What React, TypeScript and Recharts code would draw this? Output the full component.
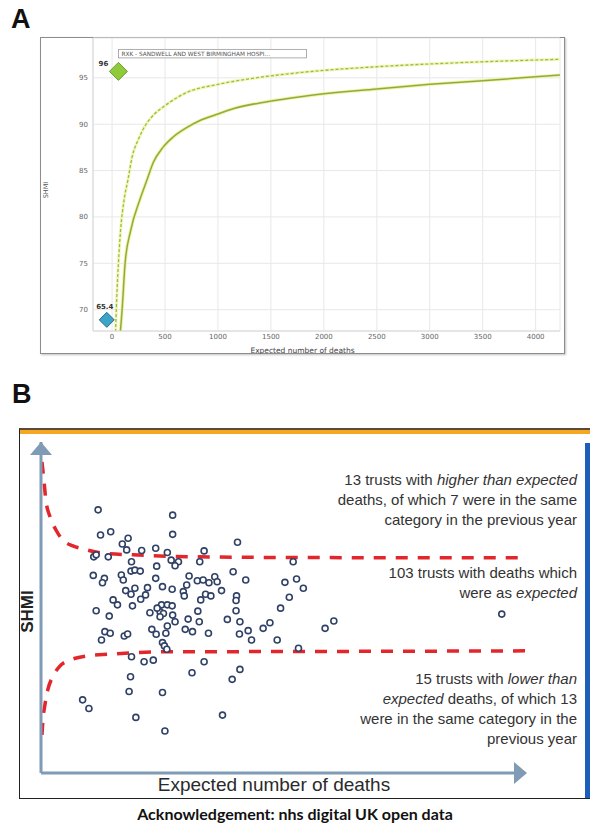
import React from 'react';
import { ComposedChart, Line, Scatter, XAxis, YAxis, CartesianGrid, ReferenceDot, Label } from 'recharts';

// ---------- Panel A: SHMI funnel plot ----------
const xTicksA = [0, 500, 1000, 1500, 2000, 2500, 3000, 3500, 4000];
const yTicksA = [70, 75, 80, 85, 90, 95];

// dashed (inner) control limit
const innerLimitE = [30, 45, 60, 80, 113, 150, 190, 250, 300, 400, 500, 700, 1000, 1300, 1800, 2500, 3200, 4230];
const innerLimitShmi = [66.5, 71.5, 75.0, 78.5, 81.8, 84.0, 86.5, 88.4, 89.6, 91.1, 92.0, 93.4, 94.3, 94.9, 95.6, 96.2, 96.6, 97.0];

// solid (outer) control limit
const outerLimitE = [70, 95, 123, 175, 264, 330, 390, 480, 575, 700, 830, 1000, 1150, 1450, 1800, 2500, 3000, 3500, 4230];
const outerLimitShmi = [66.5, 70.0, 75.0, 78.5, 81.9, 84.0, 85.9, 87.5, 88.6, 89.6, 90.4, 91.1, 91.7, 92.4, 93.0, 93.8, 94.3, 94.7, 95.3];

const highlightTrust = [{ x: 60, y: 95.7, label: '96', name: 'RXK - SANDWELL AND WEST BIRMINGHAM HOSPI...' }];
// 65.4 lies below the axis floor, the chart draws it on the floor
const lowTrust = [{ x: -50, y: 68.9, label: '65.4' }];

const innerLimit = innerLimitE.map((x, i) => ({ x, y: innerLimitShmi[i] }));
const outerLimit = outerLimitE.map((x, i) => ({ x, y: outerLimitShmi[i] }));

// ---------- Panel B: schematic funnel ----------
const upperE = [0.2, 0.6, 1.0, 1.9, 3.1, 4.5, 6.6, 8.7, 12.2, 19.0, 32.8, 53.5, 100];
const upperShmi = [144.0, 138.5, 132.5, 127.3, 123.4, 120.4, 118.6, 117.7, 116.5, 115.9, 115.3, 115.1, 115.0];
const lowerE = [0.2, 0.4, 0.8, 1.4, 2.5, 3.9, 6.0, 9.1, 14.3, 24.6, 53.5, 100];
const lowerShmi = [61.5, 66.0, 70.5, 75.1, 79.3, 82.3, 84.1, 85.3, 85.9, 86.6, 86.7, 86.9];

const trustE = [
  11.8, 27.2, 12.3, 14.4, 27.2, 18.0, 16.8, 17.7, 20.8, 23.7, 26.1, 33.7, 40.6, 10.9, 11.4, 13.9, 18.7, 26.9, 28.4, 27.7,
  32.8, 23.9, 18.6, 19.4, 20.5, 10.8, 13.1, 12.7, 16.6, 17.0, 23.7, 30.6, 32.3, 33.5, 34.7, 35.9, 36.4, 39.7, 42.3, 30.1,
  22.0, 25.1, 27.1, 17.5, 19.4, 18.6, 21.6, 29.4, 29.6, 37.3, 33.0, 34.0, 35.1, 40.4, 40.3, 14.9, 15.8, 20.6, 18.9, 24.9,
  26.1, 27.1, 11.4, 14.1, 22.5, 24.6, 25.3, 24.6, 27.2, 27.7, 26.1, 25.8, 22.9, 23.8, 30.4, 32.4, 32.7, 29.8, 31.3, 34.6,
  38.5, 40.3, 41.1, 41.0, 42.8, 43.5, 13.2, 14.3, 12.5, 17.2, 17.9, 25.1, 25.5, 26.0, 18.7, 21.3, 23.2, 33.7, 18.5, 31.2,
  41.1, 39.5, 18.2, 25.1, 8.6, 9.9, 19.6, 37.5, 25.6, 52.1, 50.4, 52.8, 54.2, 51.3, 49.5, 47.3, 45.9, 48.8, 58.7, 60.5,
  53.2, 95.2, 24.0,
];
const trustShmi = [
  129.5, 127.9, 121.9, 122.9, 122.1, 120.9, 119.2, 117.4, 117.2, 117.9, 116.6, 117.1, 119.7, 115.3, 115.9, 115.3, 113.8, 114.3, 113.8, 112.6,
  113.8, 112.5, 111.0, 111.3, 111.0, 109.7, 108.8, 107.5, 109.8, 108.3, 108.8, 109.5, 108.1, 108.3, 107.5, 109.3, 107.8, 110.8, 108.3, 106.8,
  106.0, 106.3, 105.5, 105.1, 105.8, 104.0, 103.8, 104.8, 103.5, 105.1, 102.3, 104.0, 103.5, 103.5, 102.1, 102.3, 100.8, 102.5, 100.5, 100.8,
  100.8, 100.5, 99.0, 97.4, 98.4, 98.7, 98.2, 97.2, 97.7, 95.7, 94.4, 92.2, 93.4, 91.9, 96.5, 98.9, 95.7, 93.4, 92.7, 92.2,
  96.4, 99.0, 95.7, 92.0, 93.0, 90.2, 92.7, 92.2, 90.2, 91.4, 92.0, 89.4, 88.4, 87.4, 85.1, 83.6, 84.1, 83.6, 79.1, 80.3,
  81.3, 78.3, 74.6, 74.3, 72.1, 69.5, 66.8, 67.5, 62.7, 113.8, 107.6, 108.6, 105.8, 103.1, 99.8, 95.4, 93.7, 90.2, 93.7, 95.9,
  87.7, 98.0, 99.8,
];

const upperLimit = upperE.map((x, i) => ({ x, y: upperShmi[i] }));
const lowerLimit = lowerE.map((x, i) => ({ x, y: lowerShmi[i] }));
const trusts = trustE.map((x, i) => ({ x, y: trustShmi[i] }));

const FONT_A = 'DejaVu Sans, Verdana, sans-serif';
const FONT_B = 'Liberation Sans, Arial, sans-serif';

const HighlightShape = (props: any) => {
  const { cx, cy, payload } = props;
  const h = 9;
  return (
    <g>
      <rect x={cx} y={cy - 22} width={188} height={8.5} fill="#fff" stroke="#9a9a9a" strokeWidth={0.8} />
      <text x={cx + 3} y={cy - 17.5} fontSize={5.8} fill="#555" fontFamily={FONT_A} dominantBaseline="central">
        {payload.name}
      </text>
      <polygon
        points={`${cx},${cy - h} ${cx + h},${cy} ${cx},${cy + h} ${cx - h},${cy}`}
        fill="#8fca3a"
        stroke="#6e9f2c"
        strokeWidth={1}
      />
      <text x={cx - 15} y={cy - 7} fontSize={7} fontWeight="bold" fill="#333" textAnchor="middle" dominantBaseline="central" fontFamily={FONT_A}>
        {payload.label}
      </text>
    </g>
  );
};

const LowShape = (props: any) => {
  const { cx, cy, payload } = props;
  const h = 7.5;
  return (
    <g>
      <polygon
        points={`${cx},${cy - h} ${cx + h},${cy} ${cx},${cy + h} ${cx - h},${cy}`}
        fill="#3ea3c9"
        stroke="#1f6f8e"
        strokeWidth={1}
      />
      <text x={cx - 2} y={cy - 13} fontSize={7} fontWeight="bold" fill="#333" textAnchor="middle" dominantBaseline="central" fontFamily={FONT_A}>
        {payload.label}
      </text>
    </g>
  );
};

const TrustDot = (props: any) => {
  const { cx, cy } = props;
  return <circle cx={cx} cy={cy} r={3} fill="#fff" stroke="#2f4166" strokeWidth={1.6} />;
};

const UpArrow = (props: any) => {
  const { cx, cy } = props;
  return <polygon points={`${cx},${cy} ${cx + 11},${cy + 13} ${cx - 11},${cy + 13}`} fill="#7f9bb5" />;
};

const RightArrow = (props: any) => {
  const { cx, cy } = props;
  return <polygon points={`${cx + 2},${cy} ${cx - 11},${cy - 11} ${cx - 11},${cy + 11}`} fill="#7f9bb5" />;
};

const PanelA = () => (
  <div style={{ position: 'absolute', left: 40, top: 37, width: 525, height: 317 }}>
    <div style={{ position: 'absolute', inset: 0, border: '1.5px solid #8c8c8c', boxSizing: 'border-box', boxShadow: '1px 1px 2px rgba(0,0,0,0.25)' }} />
    <ComposedChart width={525} height={317} margin={{ top: 1, right: 5, bottom: 0, left: 0 }}>
      <CartesianGrid stroke="#e8e8e8" strokeWidth={1} />
      <XAxis
        type="number"
        dataKey="x"
        domain={[-180, 4230]}
        ticks={xTicksA}
        allowDataOverflow
        height={23}
        tickSize={0}
        tickMargin={3}
        axisLine={{ stroke: '#d8d8d8' }}
        tick={{ fontSize: 7, fill: '#666', fontFamily: FONT_A }}
      >
        <Label
          content={({ viewBox }: any) => (
            <text x={viewBox.x + viewBox.width / 2 - 24} y={viewBox.y + 19} fontSize={7.5} fill="#444" textAnchor="middle" dominantBaseline="central" fontFamily={FONT_A}>
              Expected number of deaths
            </text>
          )}
        />
      </XAxis>
      <YAxis
        type="number"
        dataKey="y"
        domain={[67.7, 99.3]}
        ticks={yTicksA}
        allowDataOverflow
        width={53}
        tickSize={0}
        tickMargin={5}
        axisLine={{ stroke: '#d8d8d8' }}
        tick={{ fontSize: 7, fill: '#666', fontFamily: FONT_A }}
      >
        <Label
          content={({ viewBox }: any) => {
            const x = viewBox.x + 6;
            const y = viewBox.y + viewBox.height / 2 + 5.5;
            return (
              <text x={x} y={y} transform={`rotate(-90 ${x} ${y})`} fontSize={6.5} fill="#555" textAnchor="middle" dominantBaseline="central" fontFamily={FONT_A}>
                SHMI
              </text>
            );
          }}
        />
      </YAxis>
      <Line data={innerLimit} dataKey="y" type="monotone" stroke="#f1f7b4" strokeWidth={3} dot={false} isAnimationActive={false} />
      <Line data={innerLimit} dataKey="y" type="monotone" stroke="#a2b752" strokeWidth={1.3} strokeDasharray="3 2" dot={false} isAnimationActive={false} />
      <Line data={outerLimit} dataKey="y" type="monotone" stroke="#eef5a0" strokeWidth={3.4} dot={false} isAnimationActive={false} />
      <Line data={outerLimit} dataKey="y" type="monotone" stroke="#93aa44" strokeWidth={1.5} dot={false} isAnimationActive={false} />
      <Scatter data={highlightTrust} dataKey="y" shape={HighlightShape} isAnimationActive={false} />
      <Scatter data={lowTrust} dataKey="y" shape={LowShape} isAnimationActive={false} />
    </ComposedChart>
  </div>
);

const PanelB = () => (
  <div style={{ position: 'absolute', left: 0, top: 430, width: 590, height: 368 }}>
    <ComposedChart width={590} height={368} margin={{ top: 12, right: 65, bottom: 0, left: 20 }}>
      <XAxis
        type="number"
        dataKey="x"
        domain={[0, 100]}
        height={25}
        tick={false}
        tickLine={false}
        axisLine={{ stroke: '#7f9bb5', strokeWidth: 3 }}
      >
        <Label
          content={({ viewBox }: any) => (
            <text x={viewBox.x + viewBox.width / 2 - 9} y={viewBox.y + 11} fontSize={19} fill="#2a2a2a" textAnchor="middle" dominantBaseline="central" fontFamily={FONT_B}>
              Expected number of deaths
            </text>
          )}
        />
      </XAxis>
      <YAxis
        type="number"
        dataKey="y"
        domain={[50, 150]}
        width={21}
        tick={false}
        tickLine={false}
        axisLine={{ stroke: '#7f9bb5', strokeWidth: 3 }}
      >
        <Label
          content={({ viewBox }: any) => {
            const x = viewBox.x + 7;
            const y = viewBox.y + viewBox.height / 2 + 4;
            return (
              <text x={x} y={y} transform={`rotate(-90 ${x} ${y})`} fontSize={17} fontWeight="bold" fill="#222" textAnchor="middle" dominantBaseline="central" fontFamily={FONT_B}>
                SHMI
              </text>
            );
          }}
        />
      </YAxis>
      <Line data={upperLimit} dataKey="y" type="monotone" stroke="#e3262b" strokeWidth={3.5} strokeDasharray="12 10" dot={false} isAnimationActive={false} />
      <Line data={lowerLimit} dataKey="y" type="monotone" stroke="#e3262b" strokeWidth={3.5} strokeDasharray="12 10" dot={false} isAnimationActive={false} />
      <Scatter data={trusts} dataKey="y" shape={TrustDot} isAnimationActive={false} />
      <ReferenceDot x={0} y={150} r={0} shape={UpArrow} ifOverflow="visible" />
      <ReferenceDot x={100} y={50} r={0} shape={RightArrow} ifOverflow="visible" />
    </ComposedChart>
  </div>
);

const noteStyle: React.CSSProperties = {
  position: 'absolute',
  right: 13,
  textAlign: 'right',
  fontFamily: FONT_B,
  fontSize: 15,
  lineHeight: '20px',
  color: '#333',
  whiteSpace: 'nowrap',
};

export default function App() {
  return (
    <div style={{ position: 'absolute', left: 0, top: 0, width: 590, height: 831, background: '#fff', overflow: 'hidden' }}>
      <div style={{ position: 'absolute', left: 11, top: 4, fontFamily: FONT_B, fontWeight: 'bold', fontSize: 27, color: '#111' }}>A</div>
      <PanelA />

      <div style={{ position: 'absolute', left: 12, top: 379, fontFamily: FONT_B, fontWeight: 'bold', fontSize: 27, color: '#111' }}>B</div>
      {/* frame of panel B */}
      <div style={{ position: 'absolute', left: 19, top: 428, width: 571, height: 371, borderLeft: '1.5px solid #222', borderBottom: '1.5px solid #222', borderTop: '2px solid #5b4a3a', boxSizing: 'border-box' }} />
      <div style={{ position: 'absolute', left: 20, top: 430, width: 570, height: 4, background: '#f5a623' }} />
      <div style={{ position: 'absolute', left: 585, top: 443, width: 5, height: 355, background: '#1d5fb8' }} />
      <PanelB />

      <div style={{ ...noteStyle, top: 470 }}>
        <div>13 trusts with <i>higher than expected</i></div>
        <div>deaths, of which 7 were in the same</div>
        <div>category in the previous year</div>
      </div>
      <div style={{ ...noteStyle, top: 563 }}>
        <div>103 trusts with deaths which</div>
        <div>were as <i>expected</i></div>
      </div>
      <div style={{ ...noteStyle, top: 669 }}>
        <div>15 trusts with <i>lower than</i></div>
        <div><i>expected</i> deaths, of which 13</div>
        <div>were in the same category in the</div>
        <div>previous year</div>
      </div>

      <div style={{ position: 'absolute', left: 0, width: 590, top: 804, textAlign: 'center', fontFamily: 'Lato, Open Sans, sans-serif', fontWeight: 'bold', fontSize: 16, color: '#111' }}>
        Acknowledgement: nhs digital UK open data
      </div>
    </div>
  );
}
